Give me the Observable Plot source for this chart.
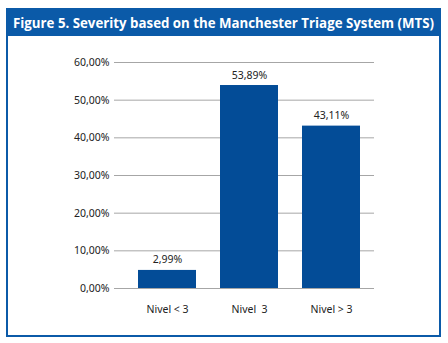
<!DOCTYPE html>
<html><head><meta charset="utf-8">
<script src="https://cdn.jsdelivr.net/npm/d3@7"></script>
<script src="https://cdn.jsdelivr.net/npm/@observablehq/plot@0.6"></script>
<style>
body{margin:0;background:#fff;}
#box{position:absolute;left:6px;top:8px;width:431px;height:325px;border:2px solid #0b5aa8;background:#fff;}
#title{height:26px;background:#0b5aa8;color:#fff;font:bold 13.5px "Open Sans";line-height:26px;white-space:nowrap;padding-left:5px;overflow:visible;}
#title span{display:inline-block;transform-origin:0 50%;}
#chart svg{display:block;}
</style>
</head><body>
<div id="box"><div id="title"><span id="tt">Figure 5. Severity based on the Manchester Triage System (MTS)</span></div><div id="chart"></div></div>
<script>
const categories = ["Nivel < 3", "Nivel\u00a0 3", "Nivel > 3"];
const values = [4.8, 53.89, 43.11];
const valueLabels = ["2,99%", "53,89%", "43,11%"];
const yTicks = [0, 10, 20, 30, 40, 50, 60];

const data = categories.map((c, i) => ({c, v: values[i], label: valueLabels[i]}));

const chart = Plot.plot({
  width: 431, height: 299,
  marginLeft: 106, marginRight: 65, marginTop: 26, marginBottom: 47,
  style: {fontFamily: "Noto Sans", fontSize: "10.5px", color: "#222", background: "#fff"},
  x: {domain: categories, paddingInner: 0.295, paddingOuter: 0.1475, insetLeft: 11, insetRight: 2, label: null, tickSize: 0, tickPadding: 17},
  y: {domain: [0, 60], ticks: yTicks, tickFormat: d => d.toFixed(2).replace(".", ",") + "%", tickSize: 0, tickPadding: 5, label: null},
  marks: [
    Plot.ruleY(yTicks, {stroke: "#a6a6a6", strokeWidth: 1}),
    Plot.barY(data, {x: "c", y: "v", fill: "#034c97"}),
    Plot.text(data, {x: "c", y: "v", text: "label", lineAnchor: "bottom", dy: -7, fill: "#222"})
  ]
});
document.getElementById("chart").appendChild(chart);
const tt = document.getElementById("tt");
const w = tt.getBoundingClientRect().width;
tt.style.transform = `scaleX(${421 / w})`;
</script>
</body></html>
